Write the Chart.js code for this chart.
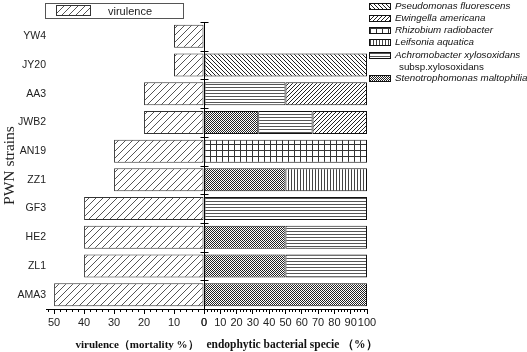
<!DOCTYPE html>
<html>
<head>
<meta charset="utf-8">
<script src="https://cdn.jsdelivr.net/npm/chart.js@4.4.1/dist/chart.umd.min.js"></script>
<style>
html,body{margin:0;padding:0;background:#fff;}
#wrap{position:relative;width:527px;height:352px;overflow:hidden;background:#fff;}
#wrap canvas.chart{position:absolute;left:0;top:0;}
#virLeg{position:absolute;left:45px;top:3px;width:137px;height:14px;border:1px solid #555;}
#virLeg canvas{position:absolute;left:10px;top:1px;border:1px solid #333;}
#virLeg span{position:absolute;left:62px;top:0px;font:11px "Liberation Sans",Arial,sans-serif;color:#222;line-height:14px;}
.sp{position:absolute;left:369px;height:12px;}
.sp canvas{position:absolute;left:0;top:2px;border:1px solid #111;}
.sp span{position:absolute;left:26px;top:-1px;white-space:nowrap;font:italic 9.8px "Liberation Sans",Arial,sans-serif;color:#111;line-height:12px;}
.sub{position:absolute;left:399px;white-space:nowrap;font:9.8px "Liberation Sans",Arial,sans-serif;color:#111;line-height:12px;}
.xt{position:absolute;top:336px;white-space:nowrap;font:bold 11.5px "Liberation Serif",serif;color:#111;line-height:16px;transform:translateX(-50%);}
</style>
</head>
<body>
<div id="wrap">
<canvas id="left" class="chart" width="527" height="352"></canvas>
<canvas id="right" class="chart" width="527" height="352"></canvas>
<div id="virLeg"><canvas id="virSw" width="33" height="9"></canvas><span>virulence</span></div>
<div id="spLeg"></div>
<div class="xt" style="left:137px;font-size:11px">virulence（mortality %）</div>
<div class="xt" style="left:292px">endophytic bacterial specie （%）</div>
</div>
<script>
// ---- data ----
const strains = ['YW4','JY20','AA3','JWB2','AN19','ZZ1','GF3','HE2','ZL1','AMA3'];
const virulence = [10,10,20,20,30,30,40,40,40,50];
const stenotrophomonas = [0,0,0,33.3,0,50,0,50,50,100];
const achromobacter = [0,0,50,33.3,0,0,100,50,50,0];
const leifsonia = [0,0,0,0,0,50,0,0,0,0];
const rhizobium = [0,0,0,0,100,0,0,0,0,0];
const ewingella = [0,0,50,33.4,0,0,0,0,0,0];
const pseudomonas = [0,100,0,0,0,0,0,0,0,0];
const virTicks = [0,10,20,30,40,50];
const speciesTicks = [0,10,20,30,40,50,60,70,80,90,100];

// ---- patterns ----
function tile(w,h,draw){
  const c=document.createElement('canvas');c.width=w;c.height=h;
  const g=c.getContext('2d');g.fillStyle='#fff';g.fillRect(0,0,w,h);draw(g,w,h);
  return c;
}
function pat(c){return document.createElement('canvas').getContext('2d').createPattern(c,'repeat');}
const tiles = {
  vir: tile(7,7,(g,w)=>{g.fillStyle='#555';for(let i=0;i<w;i++)g.fillRect(i,w-1-i,1,1);}),
  ewi: tile(4,4,(g,w)=>{g.fillStyle='#222';for(let i=0;i<w;i++)g.fillRect(i,w-1-i,1,1);}),
  pse: tile(4,4,(g,w)=>{g.fillStyle='#222';for(let i=0;i<w;i++)g.fillRect(i,i,1,1);}),
  rhi: tile(6,6,(g)=>{g.fillStyle='#333';g.fillRect(0,0,1,6);g.fillRect(0,0,6,1);}),
  lei: tile(3,1,(g)=>{g.fillStyle='#444';g.fillRect(0,0,1,1);}),
  ach: tile(1,3,(g)=>{g.fillStyle='#555';g.fillRect(0,0,1,1);}),
  ste: tile(2,2,(g)=>{g.fillStyle='#222';g.fillRect(0,0,1,1);g.fillRect(1,1,1,1);})
};

// ---- plugins ----
const minorTicks = {
  id:'minorTicks',
  afterDraw(chart){
    const s=chart.scales.x, ctx=chart.ctx;
    ctx.save();ctx.strokeStyle='#000';ctx.lineWidth=1;ctx.beginPath();
    for(let v=0; v<=s.max+1e-9; v+=2){
      if(v%10===0) continue;
      const x=Math.round(s.getPixelForValue(v))+0.5;
      ctx.moveTo(x,s.top);ctx.lineTo(x,s.top+3);
    }
    ctx.stroke();ctx.restore();
  }
};
const crossTicks = {
  id:'crossTicks',
  afterDraw(chart){
    const y=chart.scales.y, ctx=chart.ctx, x0=Math.round(chart.chartArea.left)+0.5;
    ctx.save();ctx.strokeStyle='#000';ctx.lineWidth=1;ctx.beginPath();
    for(let i=0;i<=strains.length;i++){
      const py=Math.round(y.getPixelForValue(i-0.5))+0.5;
      ctx.moveTo(x0-4,py);ctx.lineTo(x0+4,py);
    }
    ctx.stroke();ctx.restore();
  }
};

const tickFont = {family:'"Liberation Sans", Arial, sans-serif', size:11};

// ---- left chart: virulence ----
new Chart(document.getElementById('left'),{
  type:'bar',
  data:{labels:strains,datasets:[{label:'virulence',data:virulence,backgroundColor:pat(tiles.vir),
    borderColor:'#333',borderWidth:1,borderSkipped:false,barPercentage:0.8,categoryPercentage:1}]},
  options:{
    indexAxis:'y',responsive:false,animation:false,
    layout:{padding:{left:0,top:22,right:323,bottom:0}},
    plugins:{legend:{display:false},tooltip:{enabled:false}},
    scales:{
      x:{type:'linear',reverse:true,min:0,max:52.7,
        afterBuildTicks(s){s.ticks=virTicks.map(v=>({value:v}));},
        ticks:{font:tickFont,color:'#222',maxRotation:0,autoSkip:false,padding:2},
        grid:{drawOnChartArea:false,tickLength:5,color:'#000'},
        border:{display:true,color:'#000'},
        title:{display:false,text:'virulence（mortality %）'},
        afterFit(s){s.height=43;}
      },
      y:{position:'left',grid:{display:false,drawTicks:false},border:{display:false},
        ticks:{font:{family:'"Liberation Sans", Arial, sans-serif',size:10.5},color:'#222',padding:0},
        title:{display:true,text:'PWN strains',color:'#222',font:{family:'"Liberation Serif", serif',size:15.5},padding:{top:1,bottom:0}},
        afterFit(s){s.width=46;}
      }
    }
  },
  plugins:[minorTicks]
});

// ---- right chart: endophytic species ----
const species = [
  {label:'Stenotrophomonas maltophilia',data:stenotrophomonas,t:'ste'},
  {label:'Achromobacter xylosoxidans subsp.xylosoxidans',data:achromobacter,t:'ach'},
  {label:'Leifsonia aquatica',data:leifsonia,t:'lei'},
  {label:'Rhizobium radiobacter',data:rhizobium,t:'rhi'},
  {label:'Ewingella americana',data:ewingella,t:'ewi'},
  {label:'Pseudomonas fluorescens',data:pseudomonas,t:'pse'}
];
new Chart(document.getElementById('right'),{
  type:'bar',
  data:{labels:strains,datasets:species.map(s=>({label:s.label,data:s.data,backgroundColor:pat(tiles[s.t]),
    borderColor:'#111',borderWidth:1,borderSkipped:false,barPercentage:0.8,categoryPercentage:1}))},
  options:{
    indexAxis:'y',responsive:false,animation:false,
    layout:{padding:{left:204,top:22,right:160,bottom:0}},
    plugins:{legend:{display:false},tooltip:{enabled:false}},
    scales:{
      x:{type:'linear',stacked:true,min:0,max:100,
        afterBuildTicks(s){s.ticks=speciesTicks.map(v=>({value:v}));},
        ticks:{font:tickFont,color:'#222',maxRotation:0,autoSkip:false,padding:2},
        grid:{drawOnChartArea:false,tickLength:5,color:'#000'},
        border:{display:true,color:'#000'},
        title:{display:false,text:'endophytic bacterial specie （%）'},
        afterFit(s){s.height=43;}
      },
      y:{stacked:true,grid:{display:false,drawTicks:false},border:{display:true,color:'#000'},
        ticks:{display:false},afterFit(s){s.width=0;}}
    }
  },
  plugins:[minorTicks,crossTicks]
});

// ---- legends ----
function fillSw(cv,t){const g=cv.getContext('2d');g.fillStyle=pat(tiles[t]);g.fillRect(0,0,cv.width,cv.height);}
fillSw(document.getElementById('virSw'),'vir');
const legendRows = [
  {name:'Pseudomonas fluorescens',t:'pse',y:1},
  {name:'Ewingella americana',t:'ewi',y:13},
  {name:'Rhizobium radiobacter',t:'rhi',y:25},
  {name:'Leifsonia aquatica',t:'lei',y:37},
  {name:'Achromobacter xylosoxidans',t:'ach',y:50},
  {name:'Stenotrophomonas maltophilia',t:'ste',y:73}
];
const leg=document.getElementById('spLeg');
legendRows.forEach(r=>{
  const d=document.createElement('div');d.className='sp';d.style.top=r.y+'px';
  const c=document.createElement('canvas');c.width=20;c.height=5;fillSw(c,r.t);
  const s=document.createElement('span');s.textContent=r.name;
  d.appendChild(c);d.appendChild(s);leg.appendChild(d);
});
const sub=document.createElement('div');sub.className='sub';sub.style.top='61px';sub.textContent='subsp.xylosoxidans';
leg.appendChild(sub);
</script>
</body>
</html>
